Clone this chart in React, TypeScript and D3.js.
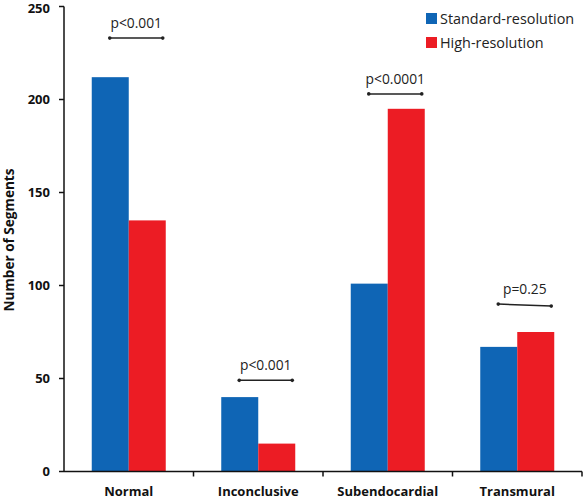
import React from "react";
import * as d3 from "d3";

const categories = ["Normal", "Inconclusive", "Subendocardial", "Transmural"];
const seriesNames = ["Standard-resolution", "High-resolution"];
const standardValues = [212, 40, 101, 67];
const highValues = [135, 15, 195, 75];
const yTicks = [0, 50, 100, 150, 200, 250];
const pLabels = ["p<0.001", "p<0.001", "p<0.0001", "p=0.25"];
const pLevels = [233, 49, 203, 90];

const W = 583;
const H = 499;
const colors = ["#0F65B5", "#EC1C24"];
const font = "'Open Sans', 'Liberation Sans', sans-serif";

export default function App() {
  const x = d3.scaleBand<string>().domain(categories).range([64, 582]);
  const y = d3.scaleLinear().domain([0, 250]).range([471.5, 6.5]);
  const barW = 37;
  return (
    <svg width={W} height={H} style={{ position: "absolute", left: 0, top: 0, background: "#fff" }} fontFamily={font}>
      {categories.map((c, i) => {
        const cx = x(c)! + x.bandwidth() / 2;
        return (
          <g key={c}>
            <rect x={cx - barW} y={y(standardValues[i])} width={barW} height={y(0) - y(standardValues[i])} fill={colors[0]} />
            <rect x={cx} y={y(highValues[i])} width={barW} height={y(0) - y(highValues[i])} fill={colors[1]} />
            <text x={cx} y={496} textAnchor="middle" fontSize={13} fontWeight="bold" fill="#111">{c}</text>
          </g>
        );
      })}
      {/* y axis */}
      <line x1={64} x2={64} y1={y(250)} y2={y(0)} stroke="#111" strokeWidth={1.5} />
      {yTicks.map((t) => (
        <g key={t}>
          <line x1={59} x2={64} y1={y(t)} y2={y(t)} stroke="#111" strokeWidth={1.5} />
          <text x={50} y={Math.max(y(t) + 4.5, 13)} textAnchor="end" fontSize={13} fontWeight="bold" fill="#111">{t}</text>
        </g>
      ))}
      {/* x axis */}
      <line x1={64} x2={582} y1={y(0)} y2={y(0)} stroke="#111" strokeWidth={1.5} />
      {categories.map((c) => (
        <line key={c} x1={x(c)! + x.bandwidth()} x2={x(c)! + x.bandwidth()} y1={y(0)} y2={y(0) + 5} stroke="#111" strokeWidth={1.5} />
      ))}
      <text transform={`translate(14,${240}) rotate(-90)`} textAnchor="middle" fontSize={13.6} fontWeight="bold" fill="#111">Number of Segments</text>
      {/* p-value annotations */}
      {categories.map((c, i) => {
        const cx = x(c)! + x.bandwidth() / 2;
        const ly = y(pLevels[i]);
        const x1 = cx - 19;
        const x2 = cx + 34;
        const slant = i === 3 ? 2 : 0;
        return (
          <g key={c}>
            <line x1={x1} x2={x2} y1={ly} y2={ly + slant} stroke="#222" strokeWidth={1.5} />
            <circle cx={x1} cy={ly} r={1.8} fill="#222" />
            <circle cx={x2} cy={ly + slant} r={1.8} fill="#222" />
            <text x={(x1 + x2) / 2} y={ly - 10} textAnchor="middle" fontSize={13.8} fill="#222">{pLabels[i]}</text>
          </g>
        );
      })}
      {/* legend */}
      {seriesNames.map((s, i) => (
        <g key={s}>
          <rect x={426} y={13 + i * 24} width={11} height={11} fill={colors[i]} />
          <text x={440} y={24 + i * 24} fontSize={14.4} fill="#222">{s}</text>
        </g>
      ))}
    </svg>
  );
}
